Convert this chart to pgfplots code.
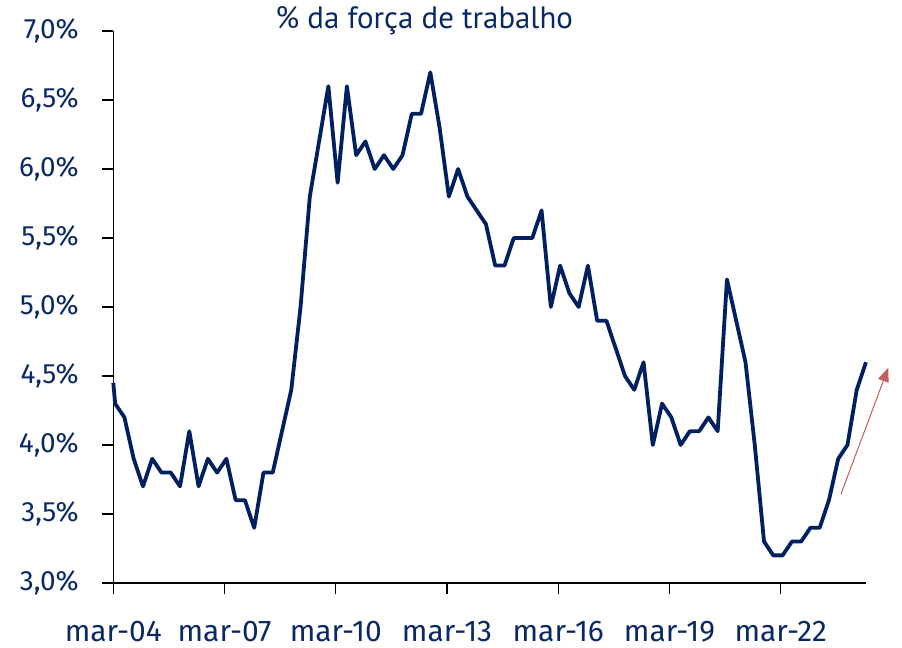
\documentclass[border=0pt]{standalone}
\usepackage{fontspec}
\setmainfont{Fira Sans}
\newfontfamily\titlefont{PT Sans}
\usepackage{pgfplots}
\pgfplotsset{compat=1.18}
\usetikzlibrary{arrows.meta}
\definecolor{navy}{RGB}{0,32,96}
\definecolor{txt}{RGB}{10,40,100}
\definecolor{arrowred}{RGB}{192,96,96}
\begin{document}
\begin{tikzpicture}
\begin{axis}[
  scale only axis,
  width=752.7bp, height=552bp,
  xmin=0, xmax=81.2, ymin=3, ymax=7,
  axis lines=left,
  axis line style={black, line width=1.2bp, -},
  clip=false,
  xtick={0,12,24,36,48,60,72},
  xticklabels={mar-04,mar-07,mar-10,mar-13,mar-16,mar-19,mar-22},
  ytick={3,3.5,4,4.5,5,5.5,6,6.5,7},
  yticklabels={{3,0\%},{3,5\%},{4,0\%},{4,5\%},{5,0\%},{5,5\%},{6,0\%},{6,5\%},{7,0\%}},
  tick style={black, line width=1.2bp},
  tick align=outside,
  major tick length=11bp,
  xticklabel style={font=\fontsize{30}{34}\selectfont, text=txt, yshift=-24bp},
  yticklabel style={font=\fontsize{28}{32}\selectfont, text=txt, xshift=-20bp},
  title={\titlefont\fontsize{31}{34}\selectfont\% da força de trabalho},
  title style={text=txt, at={(0.413,1)}, anchor=south, yshift=-13bp},
]
\addplot[navy, line width=3.8bp, line join=round, no marks] coordinates {
(0,4.45)
(0.2,4.3)(1.2,4.2)(2.2,3.9)(3.2,3.7)(4.2,3.9)(5.2,3.8)(6.2,3.8)(7.2,3.7)
(8.2,4.1)(9.2,3.7)(10.2,3.9)(11.2,3.8)(12.2,3.9)(13.2,3.6)(14.2,3.6)(15.2,3.4)
(16.2,3.8)(17.2,3.8)(18.2,4.1)(19.2,4.4)(20.2,5.0)(21.2,5.8)(22.2,6.2)(23.2,6.6)
(24.2,5.9)(25.2,6.6)(26.2,6.1)(27.2,6.2)(28.2,6.0)(29.2,6.1)(30.2,6.0)(31.2,6.1)
(32.2,6.4)(33.2,6.4)(34.2,6.7)(35.2,6.3)(36.2,5.8)(37.2,6.0)(38.2,5.8)(39.2,5.7)
(40.2,5.6)(41.2,5.3)(42.2,5.3)(43.2,5.5)(44.2,5.5)(45.2,5.5)(46.2,5.7)(47.2,5.0)
(48.2,5.3)(49.2,5.1)(50.2,5.0)(51.2,5.3)(52.2,4.9)(53.2,4.9)(54.2,4.7)(55.2,4.5)
(56.2,4.4)(57.2,4.6)(58.2,4.0)(59.2,4.3)(60.2,4.2)(61.2,4.0)(62.2,4.1)(63.2,4.1)
(64.2,4.2)(65.2,4.1)(66.2,5.2)(67.2,4.9)(68.2,4.6)(69.2,4.0)(70.2,3.3)(71.2,3.2)
(72.2,3.2)(73.2,3.3)(74.2,3.3)(75.2,3.4)(76.2,3.4)(77.2,3.6)(78.2,3.9)(79.2,4.0)
(80.2,4.4)(81.2,4.6)
};
\draw[arrowred, line width=1bp, -{Triangle[length=14bp, width=11bp]}] (axis cs:78.5,3.645) -- (axis cs:83.6,4.56);
\end{axis}
\pgfresetboundingbox
\path (-113.3bp,-65bp) rectangle (788.7bp,583bp);
\end{tikzpicture}
\end{document}
